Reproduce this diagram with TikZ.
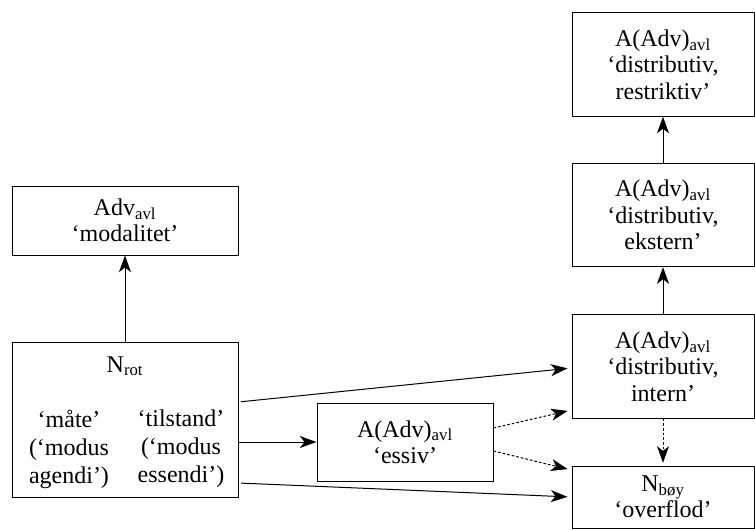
\documentclass[tikz,border=0pt]{standalone}
\usepackage{fontspec}
\setmainfont{Liberation Serif}
\usetikzlibrary{arrows.meta,calc}

\tikzset{every picture/.style={line width=0.75pt}}
\tikzset{
  txt/.style={inner sep=0pt, align=center, font=\fontsize{18}{19.8}\selectfont},
  box/.style={txt, draw, minimum width=136.5pt, minimum height=77.5pt},
  widebox/.style={box, minimum width=169.5pt},
  arr/.style={-{Stealth[length=12.5pt,width=9pt,inset=3.5pt]}},
  dotarr/.style={arr, dash pattern={on 2pt off 1.5pt}},
}

\begin{document}
\begin{tikzpicture}[x=0.75pt,y=0.75pt,yscale=-1,xscale=1]
        \useasboundingbox (0,0) rectangle (755,529);

        % right column
        \node[box] (restr) at (663,64.5) {A(Adv)\textsubscript{avl}\\‘distributiv,\\restriktiv’};
        \node[box] (ekstern) at (663,215) {A(Adv)\textsubscript{avl}\\‘distributiv,\\ekstern’};
        \node[box] (intern) at (663,366.5) {A(Adv)\textsubscript{avl}\\‘distributiv,\\intern’};
        \node[box, minimum height=46.5pt] (boy) at (663,497) {N\textsubscript{bøy}\\‘overflod’};

        % left column
        \node[widebox, minimum height=51.75pt] (modal) at (125,220.5) {Adv\textsubscript{avl}\\‘modalitet’};
        \node[widebox, minimum height=116.25pt] (rot) at (125,419.5) {};
        \node[txt, anchor=base] (rotlbl) at (125,372) {N\textsubscript{rot}};
        \node[txt, font=\fontsize{18}{21}\selectfont] (mate) at (69,449) {‘måte’\\(‘modus\\agendi’)};
        \node[txt, font=\fontsize{18}{21}\selectfont] (tilstand) at (181,449) {‘tilstand’\\(‘modus\\essendi’)};

        % middle
        \node[box, minimum width=132pt, minimum height=58.5pt] (essiv) at (405,442) {A(Adv)\textsubscript{avl}\\‘essiv’};

        % arrows
        \draw[arr] (rot.north) -- (modal.south);
        \draw[arr, shorten <=2pt, shorten >=3pt] ($(rot.east)+(0,-17.5)$) -- ($(intern.west)+(0,1.5)$);
        \draw[arr] (rot.east |- essiv.west) -- (essiv.west);
        \draw[arr, shorten <=2pt, shorten >=3pt] ($(rot.east)+(0,63.5)$) -- (boy.west);
        \draw[dotarr, shorten >=3pt] ($(essiv.east)+(0,-14)$) -- ($(intern.west)+(0,43.5)$);
        \draw[dotarr, shorten >=3pt] ($(essiv.east)+(0,9)$) -- ($(boy.west)+(0,-27)$);
        \draw[arr] (intern) -- (ekstern);
        \draw[arr] (ekstern) -- (restr);
        \draw[dotarr, shorten >=2pt] (intern) -- (boy);

    \end{tikzpicture}
\end{document}
